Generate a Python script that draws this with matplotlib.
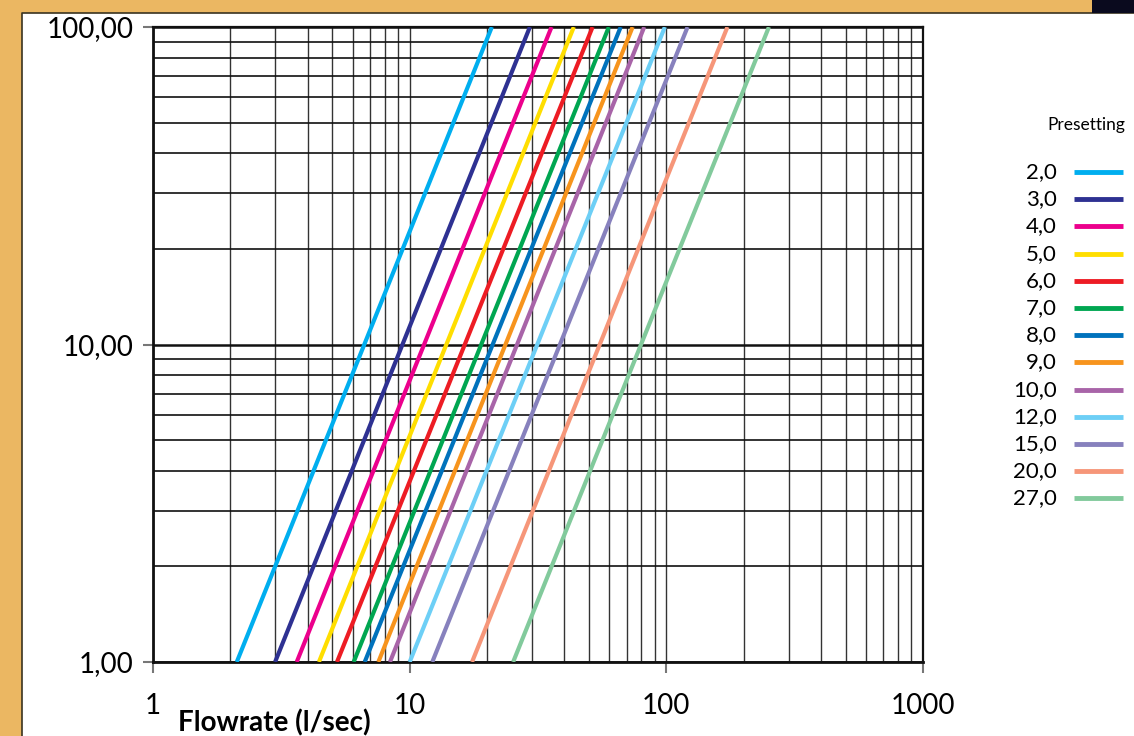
import matplotlib
matplotlib.use("Agg")
import matplotlib.pyplot as plt
from matplotlib.patches import Rectangle
from matplotlib.lines import Line2D
from matplotlib.ticker import FixedLocator, NullFormatter, LogLocator

plt.rcParams['font.family'] = ['Lato', 'DejaVu Sans']

# ---- data ----
presettings = ['2,0', '3,0', '4,0', '5,0', '6,0', '7,0', '8,0', '9,0',
               '10,0', '12,0', '15,0', '20,0', '27,0']
colors = ['#00AEEF', '#2E3192', '#EC008C', '#FFDE00', '#ED1C24', '#00A651',
          '#0072BC', '#F7941D', '#A864A8', '#6DCFF6', '#8781BD', '#F69679',
          '#82CA9C']
dp_values = [1.0, 100.0]
flow_at_dp_low = [2.12, 2.99, 3.63, 4.43, 5.21, 6.05, 6.68, 7.55, 8.38,
                  10.0, 12.25, 17.5, 25.3]
flow_at_dp_high = [20.9, 29.4, 35.7, 43.6, 51.6, 59.7, 66.4, 73.9, 82.0,
                   98.7, 121.0, 173.0, 251.0]
x_ticks = [1, 10, 100, 1000]
x_tick_labels = ['1', '10', '100', '1000']
y_ticks = [1, 10, 100]
y_tick_labels = ['1,00', '10,00', '100,00']
x_label = 'Flowrate (l/sec)'
legend_title = 'Presetting'

W, H = 1134, 736
fig = plt.figure(figsize=(W / 100, H / 100), dpi=100)
fig.patch.set_facecolor('#EBB762')

# white panel with a thin dark edge on its left and top
fig.add_artist(Rectangle((22 / W, 0), 1 - 22 / W, 1 - 13 / H, transform=fig.transFigure,
                         facecolor='white', edgecolor='none', zorder=0))
fig.add_artist(Line2D([22 / W, 22 / W, 1], [0, 1 - 13 / H, 1 - 13 / H],
                      transform=fig.transFigure, color='#3a3320', lw=1.2, zorder=0))
fig.add_artist(Rectangle((1092 / W, 1 - 13 / H), 42 / W, 13 / H, transform=fig.transFigure,
                         facecolor='#0A0A1E', edgecolor='none', zorder=0))

ax = fig.add_axes([153 / W, 1 - 662 / H, (923 - 153) / W, (662 - 27) / H])
ax.set_facecolor('white')
ax.set_xscale('log')
ax.set_yscale('log')
ax.set_xlim(1, 1000)
ax.set_ylim(1, 100)

for lo, hi, c in zip(flow_at_dp_low, flow_at_dp_high, colors):
    ax.plot([lo, hi], dp_values, color=c, lw=3.0, solid_capstyle='butt', zorder=3)

ax.xaxis.set_major_locator(FixedLocator(x_ticks))
ax.set_xticklabels(x_tick_labels)
ax.yaxis.set_major_locator(FixedLocator(y_ticks))
ax.set_yticklabels(y_tick_labels)
ax.xaxis.set_minor_locator(LogLocator(base=10, subs=range(2, 10), numticks=20))
ax.yaxis.set_minor_locator(LogLocator(base=10, subs=range(2, 10), numticks=20))
ax.xaxis.set_minor_formatter(NullFormatter())
ax.yaxis.set_minor_formatter(NullFormatter())

ax.tick_params(axis='x', which='major', length=8, width=1.5, color='#777777',
               pad=14, labelsize=20, direction='out')
ax.tick_params(axis='y', which='major', length=7, width=1.5, color='#777777',
               pad=7, labelsize=20, direction='out')
ax.tick_params(which='minor', length=0)

ax.grid(True, axis='x', which='both', color='#333333', lw=1.0, zorder=1)
ax.grid(True, axis='y', which='minor', color='#111111', lw=1.2, zorder=1)
ax.grid(True, axis='y', which='major', color='#111111', lw=1.8, zorder=1)
ax.set_axisbelow(True)

for s in ax.spines.values():
    s.set_color('#111111')
    s.set_linewidth(1.6)
ax.spines['left'].set_linewidth(2.0)
ax.spines['bottom'].set_linewidth(2.0)

fig.text(178 / W, (H - 731) / H, x_label, fontsize=20, fontweight='bold',
         ha='left', va='baseline')

# legend
fig.text(1125 / W, 1 - 125 / H, legend_title, fontsize=12.5, ha='right', va='center')
row0, step = 172.0, 27.2
for i, (lab, c) in enumerate(zip(presettings, colors)):
    yy = 1 - (row0 + i * step) / H
    fig.text(1057 / W, yy, lab, fontsize=16, ha='right', va='center')
    fig.add_artist(Line2D([1074 / W, 1123 / W], [yy, yy], transform=fig.transFigure,
                          color=c, lw=3.5, solid_capstyle='butt'))

fig.savefig('out.png', dpi=100, facecolor=fig.get_facecolor())
